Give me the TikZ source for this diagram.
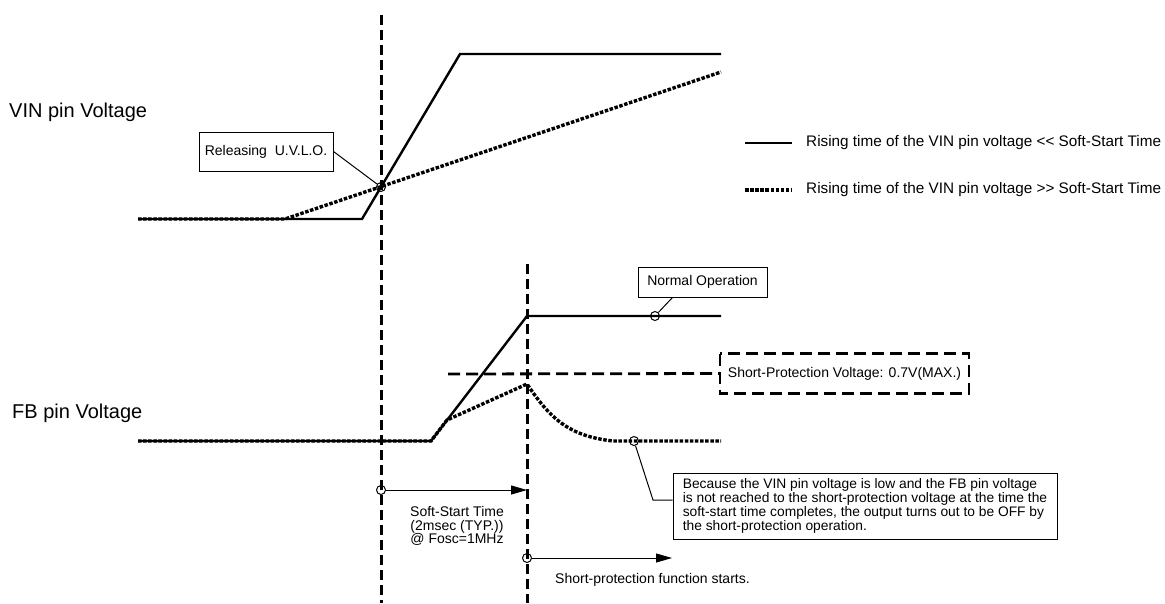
\documentclass[tikz,border=0pt]{standalone}
\usepackage{fontspec}
\setmainfont{Liberation Sans}
\usetikzlibrary{arrows.meta}
\tikzstyle{arrow} = [line width=1pt,-{Triangle[length=16pt,width=9pt]}]
\tikzstyle{vline} = [line width=3pt,dash pattern=on 10pt off 5pt]
\tikzstyle{sline} = [line width=2.8pt,dash pattern=on 12pt off 6pt]
\tikzstyle{fast} = [line width=2.4pt]
\tikzstyle{slow} = [line width=3.4pt,dash pattern=on 3.5pt off 1.6pt]
\tikzstyle{lead} = [line width=1pt]
\tikzstyle{lbl} = [inner sep=0pt,font=\fontsize{14}{14}\selectfont]
\tikzstyle{note} = [draw,line width=1pt,inner sep=4pt,font=\fontsize{14}{14}\selectfont]
\tikzstyle{probe} = [draw,circle,line width=1pt,inner sep=0pt,minimum size=9pt]

\begin{document}
\begin{tikzpicture}[x=1pt,y=-1pt]
        \useasboundingbox (0,0) rectangle (1165,603);
        % \draw[step=50,gray,very thin] (0,0) grid (1165,603);
        \coordinate (t1top) at (381,15);
        \coordinate (t1bot) at (381,603);
        \coordinate (t2top) at (527,264);
        \coordinate (t2bot) at (527,603);
        \draw[vline] (t1top) -- (t1bot);
        \draw[vline] (t2top) -- (t2bot);

        % VIN pin voltage
        \node[lbl,anchor=west,font=\fontsize{20}{20}\selectfont] (vin) at (9,112) {VIN pin Voltage};
        \draw[fast] (138,219) -- (362,219) -- (460,54) -- (721,54);
        \draw[slow] (138,219) -- (285,219) -- (721,72);
        \node[probe] (uvlo) at (381,187) {};
        \node[note,minimum width=134pt,minimum height=39pt] (uvlobox) at (266,151.5) {Releasing\ \ U.V.L.O.};
        \draw[lead] (uvlobox.east) -- (uvlo);

        % legend
        \coordinate (lg1a) at (745,143);
        \coordinate (lg1b) at (792,143);
        \coordinate (lg2a) at (745,190);
        \coordinate (lg2b) at (792,190);
        \draw[fast] (lg1a) -- (lg1b);
        \draw[slow] (lg2a) -- (lg2b);
        \node[lbl,anchor=west,font=\fontsize{15.3}{15.3}\selectfont] (lg1) at (806,143) {Rising time of the VIN pin voltage {<}{<} Soft-Start Time};
        \node[lbl,anchor=west,font=\fontsize{15.3}{15.3}\selectfont] (lg2) at (806,190) {Rising time of the VIN pin voltage {>}{>} Soft-Start Time};

        % FB pin voltage
        \node[lbl,anchor=west,font=\fontsize{20}{20}\selectfont] (fb) at (12,413) {FB pin Voltage};
        \draw[fast] (138,441) -- (431,441) -- (527,316) -- (721,316);
        \draw[slow] (138,441) -- (431,441) -- (447,420) -- (527,384)
            .. controls (550,418) and (568,436) .. (613,441) -- (721,441);
        \node[probe] (normal) at (655,316) {};
        \node[probe] (low) at (634,441) {};
        \node[note,minimum width=129pt,minimum height=30pt] (nobox) at (702.5,282) {Normal Operation};
        \draw[lead] ([xshift=-30pt]nobox.south) -- (normal);

        % short-protection level
        \node[note,draw=none,anchor=west,minimum width=248pt,minimum height=39pt] (spv) at (720,373.5) {Short-Protection Voltage: 0.7V(MAX.)};
        \draw[sline] (spv.north west) rectangle (spv.south east);
        \draw[sline] (448,374) -- (spv.west);

        % explanation
        \node[note,align=left,minimum width=384pt,minimum height=66pt,font=\fontsize{13.8}{14.2}\selectfont] (notebox) at (865,506)
            {Because the VIN pin voltage is low and the FB pin voltage\\is not reached to the short-protection voltage at the time the\\soft-start time completes, the output turns out to be OFF by\\the short-protection operation.};
        \coordinate (bend) at (653,500);
        \draw[lead] (low) -- (bend) -- (bend -| notebox.west);

        % timing arrows
        \node[probe] (ss) at (381,490) {};
        \draw[arrow] (ss) -- (ss -| t2top);
        \node[lbl,align=center,font=\fontsize{14}{13.3}\selectfont] (sstext) at (457,526) {Soft-Start Time\\(2msec (TYP.))\\@ Fosc=1MHz};
        \node[probe] (sp) at (527,558) {};
        \coordinate (spend) at (672,558);
        \draw[arrow] (sp) -- (spend);
        \node[lbl,anchor=west] (sptext) at (555,580) {Short-protection function starts.};
    \end{tikzpicture}
\end{document}
